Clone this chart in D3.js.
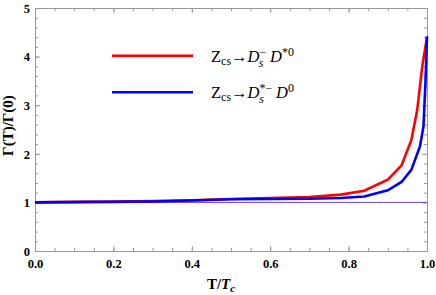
<!DOCTYPE html>
<html>
<head>
<meta charset="utf-8">
<script src="https://cdn.jsdelivr.net/npm/d3@7"></script>
<style>
body { margin: 0; background: #fff; }
text { font-family: "Liberation Serif", "Times New Roman", serif; }
</style>
</head>
<body>
<div id="chart"></div>
<script>
var margin = { top: 8, right: 9, bottom: 44, left: 35 },
    outerWidth = 436,
    outerHeight = 295,
    width = outerWidth - margin.left - margin.right,
    height = outerHeight - margin.top - margin.bottom;

// T/Tc values and ratio for each channel
var xRed  = [0, 0.1, 0.2, 0.3, 0.4, 0.5, 0.6, 0.7, 0.78, 0.84, 0.9, 0.935, 0.96, 0.975, 0.988, 1.0];
var yRed  = [1.0, 1.01, 1.02, 1.03, 1.045, 1.07, 1.09, 1.11, 1.16, 1.24, 1.47, 1.76, 2.28, 2.9, 3.8, 4.40];
var xBlue = [0, 0.1, 0.2, 0.3, 0.4, 0.5, 0.6, 0.7, 0.78, 0.84, 0.9, 0.935, 0.96, 0.982, 0.991, 0.996, 1.0];
var yBlue = [1.0, 1.005, 1.01, 1.02, 1.04, 1.065, 1.07, 1.075, 1.09, 1.12, 1.25, 1.42, 1.67, 2.15, 2.56, 3.45, 4.42];
var refLine = [1, 1];
var xTicks = [0, 0.2, 0.4, 0.6, 0.8, 1.0];
var yTicks = [0, 1, 2, 3, 4, 5];

var x = d3.scaleLinear().domain([0, 1]).range([0, width]);
var y = d3.scaleLinear().domain([0, 5]).range([height, 0]);

var svg = d3.select("#chart").append("svg")
    .attr("width", outerWidth)
    .attr("height", outerHeight)
    .append("g")
    .attr("transform", "translate(" + margin.left + "," + margin.top + ")");

var xMinor = d3.range(0, 1.0001, 0.05);
var yMinor = d3.range(0, 5.0001, 0.2);

function frameAxis(axis, tr, minor, major) {
    var g = svg.append("g").attr("transform", tr);
    g.call(axis.tickValues(minor).tickSizeInner(-3).tickSizeOuter(0).tickFormat(""));
    g.selectAll("line").attr("stroke", "#999");
    g.select(".domain").attr("stroke", "#999");
    var g2 = svg.append("g").attr("transform", tr);
    g2.call(axis.tickValues(major).tickSizeInner(-5).tickSizeOuter(0));
    g2.selectAll("line").attr("stroke", "#999");
    g2.select(".domain").attr("stroke", "#999");
    g2.selectAll(".tick text").remove();
    return g2;
}

var bottomAxis = frameAxis(d3.axisBottom(x), "translate(0," + height + ")", xMinor, xTicks);
bottomAxis.selectAll(".tick").append("text")
    .attr("y", 17)
    .attr("text-anchor", "middle")
    .style("font-size", "12.5px").style("font-weight", "bold").attr("fill", "#000")
    .text(function(d) { return d3.format(".1f")(d); });

var leftAxis = frameAxis(d3.axisLeft(y), "translate(0,0)", yMinor, yTicks);
leftAxis.selectAll(".tick").append("text")
    .attr("x", -5)
    .attr("dy", "0.35em")
    .attr("text-anchor", "end")
    .style("font-size", "12.5px").style("font-weight", "bold").attr("fill", "#000")
    .text(function(d) { return d; });

frameAxis(d3.axisTop(x), "translate(0,0)", xMinor, xTicks);
frameAxis(d3.axisRight(y), "translate(" + width + ",0)", yMinor, yTicks);

// reference line at 1
svg.append("line")
    .attr("x1", x(0)).attr("x2", x(1))
    .attr("y1", y(refLine[0])).attr("y2", y(refLine[1]))
    .attr("stroke", "#7040c8")
    .attr("stroke-width", 1);

var line = d3.line()
    .x(function(d) { return x(d[0]); })
    .y(function(d) { return y(d[1]); });

svg.append("path")
    .datum(d3.zip(xRed, yRed))
    .attr("d", line)
    .attr("fill", "none")
    .attr("stroke", "#ff0000")
    .attr("stroke-width", 2.6);

svg.append("path")
    .datum(d3.zip(xBlue, yBlue))
    .attr("d", line)
    .attr("fill", "none")
    .attr("stroke", "#0000ff")
    .attr("stroke-width", 2.6);

// legend
var legend = [
    { color: "#ff0000", y: 47.7, sup: "\u2212", tailSup: "*0" },
    { color: "#0000ff", y: 84.3, sup: "*\u2212", tailSup: "0" }
];

legend.forEach(function(l) {
    svg.append("line")
        .attr("x1", 77).attr("x2", 158)
        .attr("y1", l.y).attr("y2", l.y)
        .attr("stroke", l.color)
        .attr("stroke-width", 2.6);
    var t = svg.append("text")
        .attr("x", 176)
        .attr("y", l.y + 6)
        .style("font-size", "16.5px")
        .attr("fill", "#000");
    t.append("tspan").text("Z");
    t.append("tspan").attr("dy", 3).style("font-size", "12px").text("cs");
    t.append("tspan").attr("dy", -3).text("\u2192");
    t.append("tspan").style("font-style", "italic").text("D");
    t.append("tspan").attr("dy", -6).style("font-size", "12px").text(l.sup);
    var supW = l.sup.length > 1 ? 13 : 7.5;
    t.append("tspan").attr("dx", -supW).attr("dy", 11).style("font-size", "12px").style("font-style", "italic").text("s");
    t.append("tspan").attr("dx", supW - 1).attr("dy", -5).style("font-style", "italic").text("D");
    t.append("tspan").attr("dy", -6).style("font-size", "12px").text(l.tailSup);
});

// axis titles
var xl = svg.append("text")
    .attr("x", width / 2 - 10)
    .attr("y", height + 38)
    .attr("text-anchor", "middle")
    .style("font-size", "15px").style("font-weight", "bold");
xl.append("tspan").text("T/");
xl.append("tspan").style("font-style", "italic").text("T");
xl.append("tspan").attr("dy", 3).style("font-size", "11px").style("font-style", "italic").text("c");

svg.append("text")
    .attr("transform", "translate(" + (-22) + "," + (height / 2 - 4) + ") rotate(-90)")
    .attr("text-anchor", "middle")
    .style("font-size", "15px").style("font-weight", "bold")
    .text("\u0393(T)/\u0393(0)");
</script>
</body>
</html>
